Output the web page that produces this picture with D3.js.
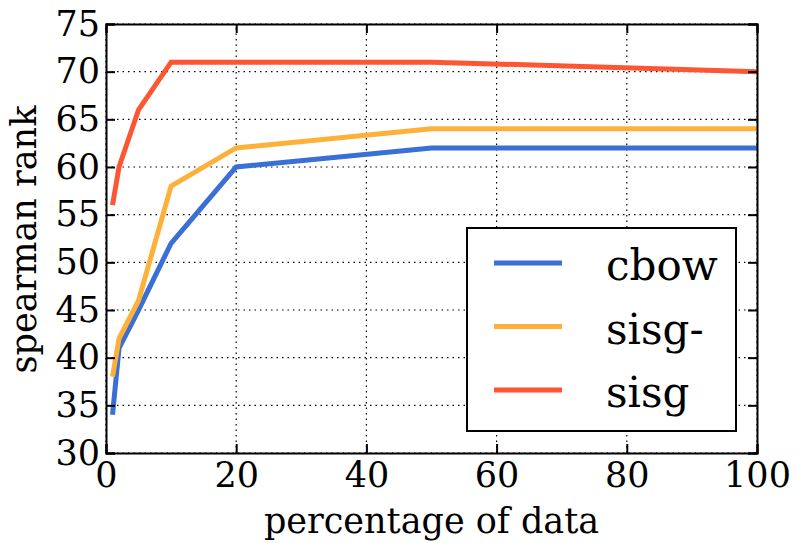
<!DOCTYPE html>
<html><head><meta charset="utf-8">
<script src="https://cdn.jsdelivr.net/npm/d3@7"></script>
<style>body{margin:0;background:#fff}svg{display:block}</style>
</head><body>
<script>
const xValues = [1, 2, 5, 10, 20, 50, 100];
const cbow = [34, 41, 45, 52, 60, 62, 62];
const sisgMinus = [38, 42, 46, 58, 62, 64, 64];
const sisg = [56, 60, 66, 71, 71, 71, 70];
const seriesNames = ["cbow", "sisg-", "sisg"];
const seriesColors = ["#3a6fd6", "#fdb13a", "#fc5633"];
const xTicks = [0, 20, 40, 60, 80, 100];
const yTicks = [30, 35, 40, 45, 50, 55, 60, 65, 70, 75];

const W = 798, H = 543;
const m = {left: 106, right: 41, top: 24, bottom: 90};
const svg = d3.select("body").append("svg").attr("width", W).attr("height", H);
const x = d3.scaleLinear().domain([0, 100]).range([m.left, W - m.right]);
const y = d3.scaleLinear().domain([30, 75]).range([H - m.bottom, m.top]);
const font = "DejaVu Serif";

// grid
const g = svg.append("g");
g.selectAll(".gx").data(xTicks).enter().append("line")
  .attr("x1", d => x(d)).attr("x2", d => x(d)).attr("y1", y(30)).attr("y2", y(75))
  .attr("stroke", "#000").attr("stroke-width", 1.2).attr("stroke-dasharray", "1.5,4");
g.selectAll(".gy").data(yTicks).enter().append("line")
  .attr("y1", d => y(d)).attr("y2", d => y(d)).attr("x1", x(0)).attr("x2", x(100))
  .attr("stroke", "#000").attr("stroke-width", 1.2).attr("stroke-dasharray", "1.5,4");

// lines
const data = [cbow, sisgMinus, sisg];
const line = d3.line().x((d, i) => x(xValues[i])).y(d => y(d));
data.forEach((s, k) => {
  svg.append("path").datum(s).attr("d", line).attr("fill", "none")
    .attr("stroke", seriesColors[k]).attr("stroke-width", 5).attr("stroke-linejoin", "miter");
});

// axes (ticks inward on all sides)
const tl = 9;
const axB = d3.axisBottom(x).tickValues(xTicks).tickSize(-tl).tickPadding(9);
const axL = d3.axisLeft(y).tickValues(yTicks).tickSize(-tl).tickPadding(6);
const axT = d3.axisTop(x).tickValues(xTicks).tickSize(-tl).tickFormat("");
const axR = d3.axisRight(y).tickValues(yTicks).tickSize(-tl).tickFormat("");
function style(sel) {
  sel.selectAll("path").attr("stroke", "#000").attr("stroke-width", 2);
  sel.selectAll("line").attr("stroke", "#000").attr("stroke-width", 2);
  sel.selectAll("text").attr("font-family", font).attr("font-size", 35).attr("fill", "#000");
}
svg.append("g").attr("transform", `translate(0,${y(30)})`).call(axB).call(style);
svg.append("g").attr("transform", `translate(${x(0)},0)`).call(axL).call(style);
svg.append("g").attr("transform", `translate(0,${y(75)})`).call(axT).call(style);
svg.append("g").attr("transform", `translate(${x(100)},0)`).call(axR).call(style);

// labels
svg.append("text").attr("x", (x(0) + x(100)) / 2).attr("y", 533).attr("text-anchor", "middle")
  .attr("font-family", font).attr("font-size", 35).text("percentage of data");
svg.append("text").attr("transform", `translate(36,${(y(30) + y(75)) / 2 + 1}) rotate(-90)`)
  .attr("text-anchor", "middle").attr("font-family", font).attr("font-size", 35).text("spearman rank");

// legend
const lg = svg.append("g");
lg.append("rect").attr("x", 467).attr("y", 228).attr("width", 269).attr("height", 203)
  .attr("fill", "#fff").attr("stroke", "#000").attr("stroke-width", 2);
seriesNames.forEach((n, k) => {
  const yy = 263 + k * 63.5;
  lg.append("line").attr("x1", 494).attr("x2", 562).attr("y1", yy).attr("y2", yy)
    .attr("stroke", seriesColors[k]).attr("stroke-width", 5);
  lg.append("text").attr("x", 606).attr("y", yy + 17).attr("font-family", font)
    .attr("font-size", 42).text(n);
});
</script>
</body></html>
